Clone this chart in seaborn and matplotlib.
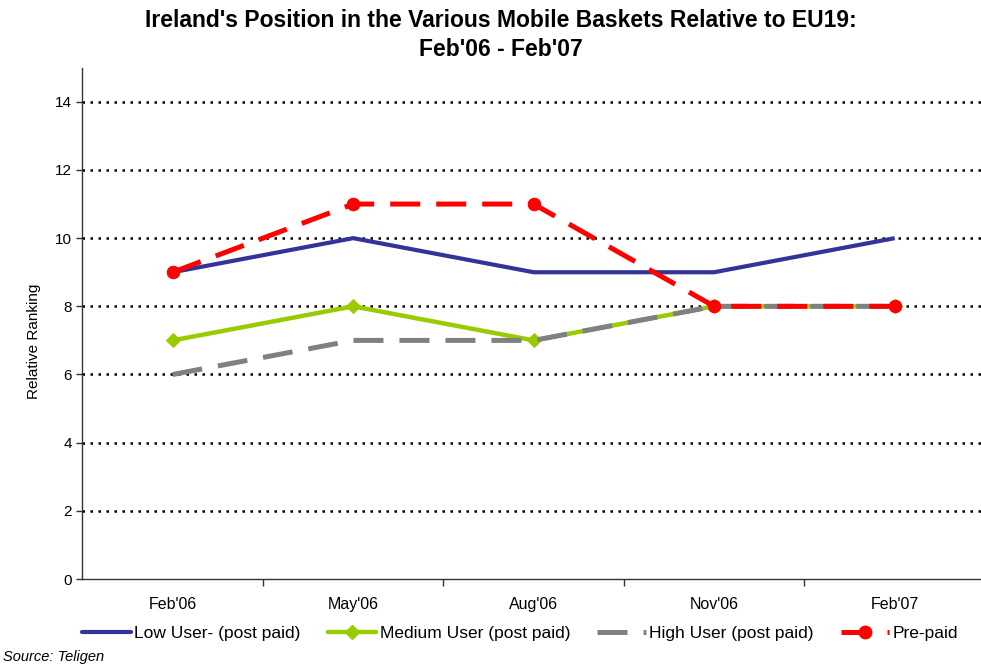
import matplotlib
matplotlib.use("Agg")
import matplotlib.pyplot as plt
import seaborn as sns
import pandas as pd
from matplotlib.lines import Line2D

months = ["Feb'06", "May'06", "Aug'06", "Nov'06", "Feb'07"]
low_user = [9, 10, 9, 9, 10]
medium_user = [7, 8, 7, 8, 8]
high_user = [6, 7, 7, 8, 8]
pre_paid = [9, 11, 11, 8, 8]
series_names = ["Low User- (post paid)", "Medium User (post paid)",
                "High User (post paid)", "Pre-paid"]
y_ticks = [0, 2, 4, 6, 8, 10, 12, 14]

sns.set_theme(style="white")
plt.rcParams["font.family"] = ["Liberation Sans", "DejaVu Sans"]
plt.rcParams["text.color"] = "black"
plt.rcParams["axes.labelcolor"] = "black"
plt.rcParams["xtick.color"] = "black"
plt.rcParams["ytick.color"] = "black"

fig, ax = plt.subplots(figsize=(9.81, 6.64), dpi=100)
fig.subplots_adjust(left=0.084, right=1.004, top=0.898, bottom=0.128)

styles = {
    series_names[0]: dict(color="#333399", lw=3, marker=None, ms=0, dashes=None),
    series_names[1]: dict(color="#99CC00", lw=3.2, marker="D", ms=7, dashes=None),
    series_names[2]: dict(color="#808080", lw=3.6, marker=None, ms=0, dashes=(6, 3.2)),
    series_names[3]: dict(color="#FF0000", lw=3.6, marker="o", ms=9, dashes=(6, 3.2)),
}
values = [low_user, medium_user, high_user, pre_paid]
pos = list(range(len(months)))

for name, vals in zip(series_names, values):
    st = styles[name]
    df = pd.DataFrame({"x": pos, "y": vals})
    line_kw = dict(color=st["color"], linewidth=st["lw"])
    if st["marker"]:
        line_kw.update(marker=st["marker"], markersize=st["ms"],
                       markeredgecolor=st["color"], markerfacecolor=st["color"])
    sns.lineplot(data=df, x="x", y="y", ax=ax, label=name, **line_kw)
    ln = ax.get_lines()[-1]
    if st["dashes"]:
        ln.set_dashes(st["dashes"])
        ln.set_dash_capstyle("butt")
    ln.set_solid_capstyle("butt")

ax.set_xlim(-0.5, len(months) - 0.5)
ax.set_ylim(0, 15)
ax.set_yticks(y_ticks)
ax.set_yticklabels([str(t) for t in y_ticks], fontsize=11)
ax.set_xticks(pos)
ax.set_xticklabels(months, fontsize=11.5)
ax.set_xticks([p + 0.5 for p in pos[:-1]], minor=True)
ax.tick_params(axis="x", which="major", length=0, pad=13)
ax.tick_params(axis="x", which="minor", length=5, width=1, color="#333333", direction="out", bottom=True)
ax.tick_params(axis="y", which="major", length=4, width=1, color="#333333", direction="out", left=True, pad=3.5)
ax.set_xlabel("")
ax.set_ylabel("Relative Ranking", fontsize=11)
ax.yaxis.set_label_coords(-0.046, 0.465)

for t in y_ticks[1:]:
    ax.axhline(t, color="black", lw=1.8, ls=(0, (1, 2.2)), zorder=0.5)

for side in ["top", "right"]:
    ax.spines[side].set_visible(False)
for side in ["left", "bottom"]:
    ax.spines[side].set_color("#333333")
    ax.spines[side].set_linewidth(1)

fig.suptitle("Ireland's Position in the Various Mobile Baskets Relative to EU19:\nFeb'06 - Feb'07",
             x=0.511, y=0.986, fontsize=16.5, fontweight="bold", linespacing=1.3)

handles = []
for name in series_names:
    st = styles[name]
    h = Line2D([0], [0], color=st["color"], lw=st["lw"],
               marker=st["marker"] if st["marker"] else None, markersize=st["ms"],
               markerfacecolor=st["color"], markeredgecolor=st["color"])
    if st["dashes"]:
        h.set_dashes(st["dashes"])
    handles.append(h)
ax.legend(handles, series_names, loc="upper center", bbox_to_anchor=(0.485, -0.078),
          ncol=4, frameon=False, fontsize=12.5, handlelength=2.8, columnspacing=1.55,
          handletextpad=0.2, borderaxespad=0)

fig.text(0.003, 0.004, "Source: Teligen", fontsize=10.5, style="italic")

fig.savefig("out.png", dpi=100)
